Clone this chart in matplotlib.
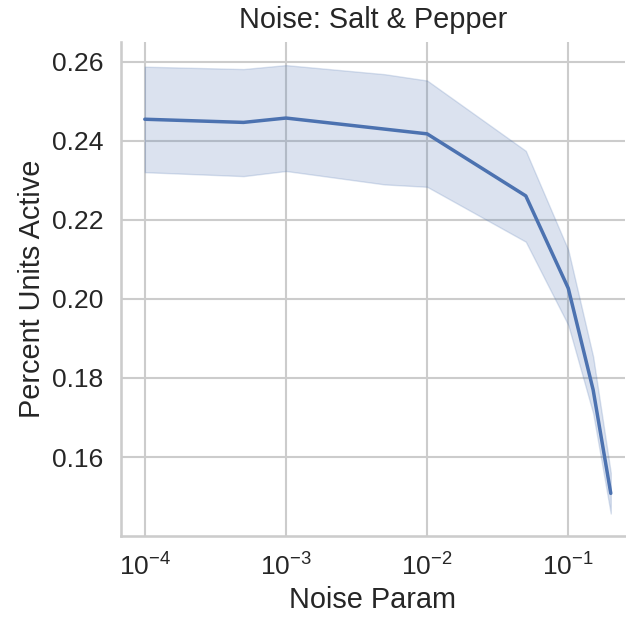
import matplotlib
matplotlib.use("Agg")
import matplotlib.pyplot as plt
import seaborn as sns
import numpy as np

sns.set_theme(style="whitegrid", context="talk", font_scale=1.155)
plt.rcParams['font.family'] = ['Liberation Sans', 'DejaVu Sans']
plt.rcParams['mathtext.fontset'] = 'custom'
plt.rcParams['mathtext.rm'] = 'Liberation Sans'
plt.rcParams['mathtext.it'] = 'Liberation Sans:italic'

noise_param = [1e-4, 5e-4, 1e-3, 5e-3, 1e-2, 5e-2, 1e-1, 0.15, 0.2]
mean_active = [0.2455, 0.2447, 0.2458, 0.2430, 0.2418, 0.2261, 0.2027, 0.1770, 0.1508]
ci_upper = [0.2588, 0.2582, 0.2592, 0.2569, 0.2553, 0.2375, 0.2124, 0.1854, 0.1560]
ci_lower = [0.2321, 0.2311, 0.2324, 0.2290, 0.2284, 0.2145, 0.1934, 0.1711, 0.1457]

fig = plt.figure(figsize=(6.26, 6.24), dpi=100)
ax = fig.add_axes([0.193, 0.141, 0.805, 0.792])
color = sns.color_palette("deep")[0]
ax.fill_between(noise_param, ci_lower, ci_upper, color=color, alpha=0.2, linewidth=1)
ax.plot(noise_param, mean_active, color=color, linewidth=2.5)
ax.set_xscale("log")
ax.set_xlim(10**-4.17, 10**-0.6)
ax.set_ylim(0.14, 0.2651)
ax.set_yticks([0.16, 0.18, 0.20, 0.22, 0.24, 0.26])
ax.set_yticklabels(["0.16", "0.18", "0.20", "0.22", "0.24", "0.26"])
ax.set_xlabel("Noise Param")
ax.set_ylabel("Percent Units Active")
ax.set_title("Noise: Salt & Pepper", pad=10)
sns.despine(ax=ax)
fig.savefig("out.png", dpi=100)
